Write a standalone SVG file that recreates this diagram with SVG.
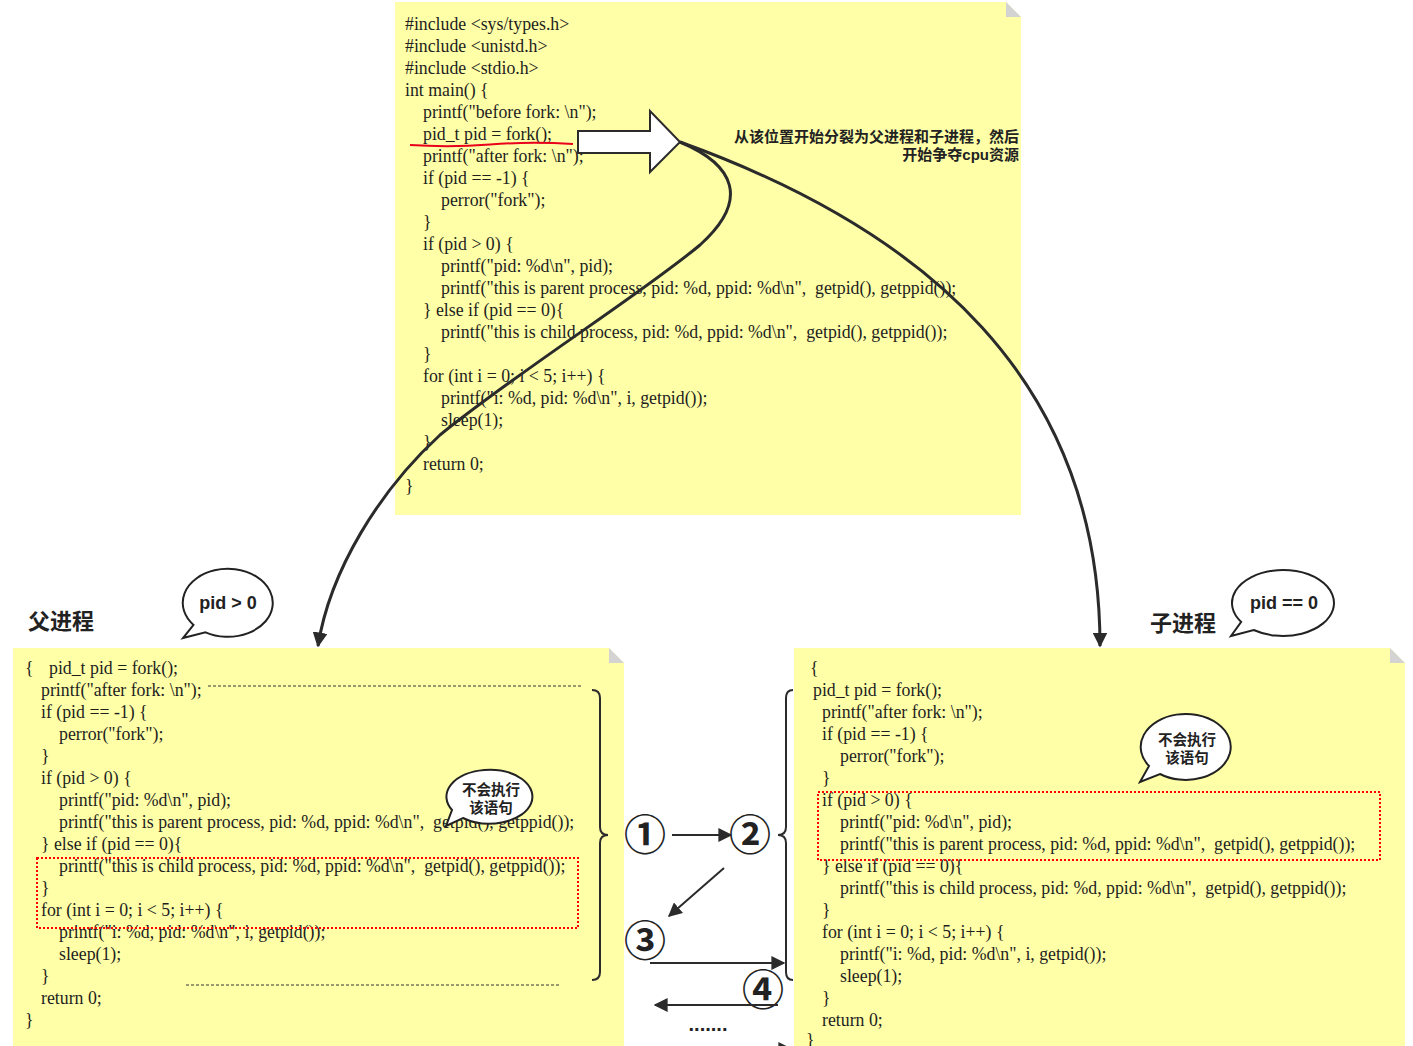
<svg xmlns="http://www.w3.org/2000/svg" width="1413" height="1046" viewBox="0 0 1413 1046">
<defs>
<style>
.note{fill:#ffffa8;stroke:none}
.fold{fill:#d3d3d3}
.code{font-family:"Liberation Serif","Times New Roman",serif;font-size:17.8px;fill:#1e1e1e;white-space:pre}
.cjk{font-family:"Liberation Sans","Noto Sans CJK SC",sans-serif;font-weight:bold;fill:#222}
.bubble{fill:#fff;stroke:#222;stroke-width:2}
.conn{fill:none;stroke:#2b2b2b;stroke-width:3}
.thin{fill:none;stroke:#2b2b2b;stroke-width:2}
.dash{fill:none;stroke:#333;stroke-width:1;stroke-dasharray:3 2}
.reddot{fill:none;stroke:#ff0000;stroke-width:2;stroke-dasharray:2 2}
.brace{fill:none;stroke:#2b2b2b;stroke-width:2}
.num{font-family:"Noto Sans CJK SC","DejaVu Sans",sans-serif;font-size:42px;font-weight:bold;fill:#222;text-anchor:middle}
</style>
<marker id="ah" viewBox="0 0 10 10" refX="9" refY="5" markerWidth="5" markerHeight="5" orient="auto" markerUnits="strokeWidth">
<path d="M0,0 L10,5 L0,10 z" fill="#2b2b2b"/>
</marker>
<marker id="ahs" viewBox="0 0 10 10" refX="9" refY="5" markerWidth="7" markerHeight="7" orient="auto" markerUnits="strokeWidth">
<path d="M0,0 L10,5 L0,10 z" fill="#2b2b2b"/>
</marker>
</defs>
<rect x="0" y="0" width="1413" height="1046" fill="#ffffff"/>

<g id="main-note">
<path class="note" d="M395,2 L1006,2 L1021,17 L1021,515 L395,515 Z"/>
<path class="fold" d="M1006,2 L1006,17 L1021,17 Z"/>
<text class="code" x="405" y="30">#include &lt;sys/types.h&gt;</text>
<text class="code" x="405" y="52">#include &lt;unistd.h&gt;</text>
<text class="code" x="405" y="74">#include &lt;stdio.h&gt;</text>
<text class="code" x="405" y="96">int main() {</text>
<text class="code" x="423" y="118">printf("before fork: \n");</text>
<text class="code" x="423" y="140">pid_t pid = fork();</text>
<text class="code" x="423" y="162">printf("after fork: \n");</text>
<text class="code" x="423" y="184">if (pid == -1) {</text>
<text class="code" x="441" y="206">perror("fork");</text>
<text class="code" x="423" y="228">}</text>
<text class="code" x="423" y="250">if (pid &gt; 0) {</text>
<text class="code" x="441" y="272">printf("pid: %d\n", pid);</text>
<text class="code" x="441" y="294">printf("this is parent process, pid: %d, ppid: %d\n",  getpid(), getppid());</text>
<text class="code" x="423" y="316">} else if (pid == 0){</text>
<text class="code" x="441" y="338">printf("this is child process, pid: %d, ppid: %d\n",  getpid(), getppid());</text>
<text class="code" x="423" y="360">}</text>
<text class="code" x="423" y="382">for (int i = 0; i &lt; 5; i++) {</text>
<text class="code" x="441" y="404">printf("i: %d, pid: %d\n", i, getpid());</text>
<text class="code" x="441" y="426">sleep(1);</text>
<text class="code" x="423" y="448">}</text>
<text class="code" x="423" y="470">return 0;</text>
<text class="code" x="405" y="492">}</text>
<path d="M410,145 Q450,147.5 490,144.5 T573,144" fill="none" stroke="#e8001c" stroke-width="2"/>
<text class="cjk" x="1019" y="142" font-size="15" text-anchor="end">从该位置开始分裂为父进程和子进程，然后</text>
<text class="cjk" x="1019" y="160" font-size="15" text-anchor="end">开始争夺cpu资源</text>
</g>

<g id="parent-note">
<path class="note" d="M13,648 L609,648 L624,663 L624,1046 L13,1046 Z"/>
<path class="fold" d="M609,648 L609,663 L624,663 Z"/>
<text class="code" x="25" y="674">{</text>
<text class="code" x="49" y="674">pid_t pid = fork();</text>
<text class="code" x="41" y="696">printf("after fork: \n");</text>
<text class="code" x="41" y="718">if (pid == -1) {</text>
<text class="code" x="59" y="740">perror("fork");</text>
<text class="code" x="41" y="762">}</text>
<text class="code" x="41" y="784">if (pid &gt; 0) {</text>
<text class="code" x="59" y="806">printf("pid: %d\n", pid);</text>
<text class="code" x="59" y="828">printf("this is parent process, pid: %d, ppid: %d\n",  getpid(), getppid());</text>
<text class="code" x="41" y="850">} else if (pid == 0){</text>
<text class="code" x="59" y="872">printf("this is child process, pid: %d, ppid: %d\n",  getpid(), getppid());</text>
<text class="code" x="41" y="894">}</text>
<text class="code" x="41" y="916">for (int i = 0; i &lt; 5; i++) {</text>
<text class="code" x="59" y="938">printf("i: %d, pid: %d\n", i, getpid());</text>
<text class="code" x="59" y="960">sleep(1);</text>
<text class="code" x="41" y="982">}</text>
<text class="code" x="41" y="1004">return 0;</text>
<text class="code" x="25" y="1026">}</text>
<line class="dash" x1="208" y1="686" x2="583" y2="686"/>
<line class="dash" x1="186" y1="985" x2="561" y2="985"/>
<rect class="reddot" x="37" y="858" width="541" height="70"/>
</g>

<g id="child-note">
<path class="note" d="M794,648 L1390,648 L1405,663 L1405,1046 L794,1046 Z"/>
<path class="fold" d="M1390,648 L1390,663 L1405,663 Z"/>
<text class="code" x="810" y="674">{</text>
<text class="code" x="813" y="696">pid_t pid = fork();</text>
<text class="code" x="822" y="718">printf("after fork: \n");</text>
<text class="code" x="822" y="740">if (pid == -1) {</text>
<text class="code" x="840" y="762">perror("fork");</text>
<text class="code" x="822" y="784">}</text>
<text class="code" x="822" y="806">if (pid &gt; 0) {</text>
<text class="code" x="840" y="828">printf("pid: %d\n", pid);</text>
<text class="code" x="840" y="850">printf("this is parent process, pid: %d, ppid: %d\n",  getpid(), getppid());</text>
<text class="code" x="822" y="872">} else if (pid == 0){</text>
<text class="code" x="840" y="894">printf("this is child process, pid: %d, ppid: %d\n",  getpid(), getppid());</text>
<text class="code" x="822" y="916">}</text>
<text class="code" x="822" y="938">for (int i = 0; i &lt; 5; i++) {</text>
<text class="code" x="840" y="960">printf("i: %d, pid: %d\n", i, getpid());</text>
<text class="code" x="840" y="982">sleep(1);</text>
<text class="code" x="822" y="1004">}</text>
<text class="code" x="822" y="1026">return 0;</text>
<text class="code" x="806" y="1046">}</text>
<rect class="reddot" x="818" y="792" width="562" height="68"/>
</g>

<g id="parent-label">
<text class="cjk" x="28" y="629" font-size="22">父进程</text>
</g>
<g id="child-label">
<text class="cjk" x="1150" y="631" font-size="22">子进程</text>
</g>

<g id="bubble-pid-gt0">
<path class="bubble" d="M205.5,632.4 A45,34 0 1 0 193.5,624.9 L183,638 Z"/>
<text class="cjk" x="228" y="609" font-size="18" text-anchor="middle">pid &gt; 0</text>
</g>
<g id="bubble-pid-eq0">
<path class="bubble" d="M1253.7,630 A51,33 0 1 0 1241.2,621.9 L1231,636 Z"/>
<text class="cjk" x="1284" y="609" font-size="18" text-anchor="middle">pid == 0</text>
</g>
<g id="bubble-parent-skip">
<path class="bubble" d="M463,818 A43,27 0 1 0 452,810 L446,826 Z"/>
<text class="cjk" x="491" y="795" font-size="14.5" text-anchor="middle">不会执行</text>
<text class="cjk" x="491" y="813" font-size="14.5" text-anchor="middle">该语句</text>
</g>
<g id="bubble-child-skip">
<path class="bubble" d="M1160,774 A45,33 0 1 0 1149,766 L1140,782 Z"/>
<text class="cjk" x="1187" y="745" font-size="14.5" text-anchor="middle">不会执行</text>
<text class="cjk" x="1187" y="763" font-size="14.5" text-anchor="middle">该语句</text>
</g>

<g id="fork-arrow">
<path d="M578,131 L650,131 L650,111 L680,142 L650,172 L650,153 L578,153 Z" fill="#ffffff" stroke="#2b2b2b" stroke-width="2"/>
</g>

<g id="steps">
<text class="num" x="645" y="850">①</text>
<text class="num" x="750" y="850">②</text>
<text class="num" x="645" y="956">③</text>
<text class="num" x="763" y="1005">④</text>
<text class="cjk" x="708" y="1031" font-size="20" text-anchor="middle">.......</text>
</g>

<g id="connectors">
<path class="conn" marker-end="url(#ah)" d="M680,142 C735,165 750,200 700,245 C640,295 520,370 440,435 C380,490 330,570 318,646"/>
<path class="conn" marker-end="url(#ah)" d="M680,142 C925,230 1100,380 1100,646"/>
<path class="brace" d="M592,690 Q600,690 600,698 L600,827 Q600,835 608,835 Q600,835 600,843 L600,972 Q600,980 592,980"/>
<path class="brace" d="M793,690 Q786,690 786,698 L786,827 Q786,835 778,835 Q786,835 786,843 L786,972 Q786,980 793,980"/>
<line class="thin" marker-end="url(#ahs)" x1="672" y1="835" x2="731" y2="835"/>
<line class="thin" marker-end="url(#ahs)" x1="724" y1="868" x2="669" y2="916"/>
<line class="thin" marker-end="url(#ahs)" x1="650" y1="963" x2="784" y2="963"/>
<line class="thin" marker-end="url(#ahs)" x1="778" y1="1005" x2="655" y2="1005"/>
<line class="thin" marker-end="url(#ahs)" x1="660" y1="1049" x2="791" y2="1049"/>
</g>
</svg>
